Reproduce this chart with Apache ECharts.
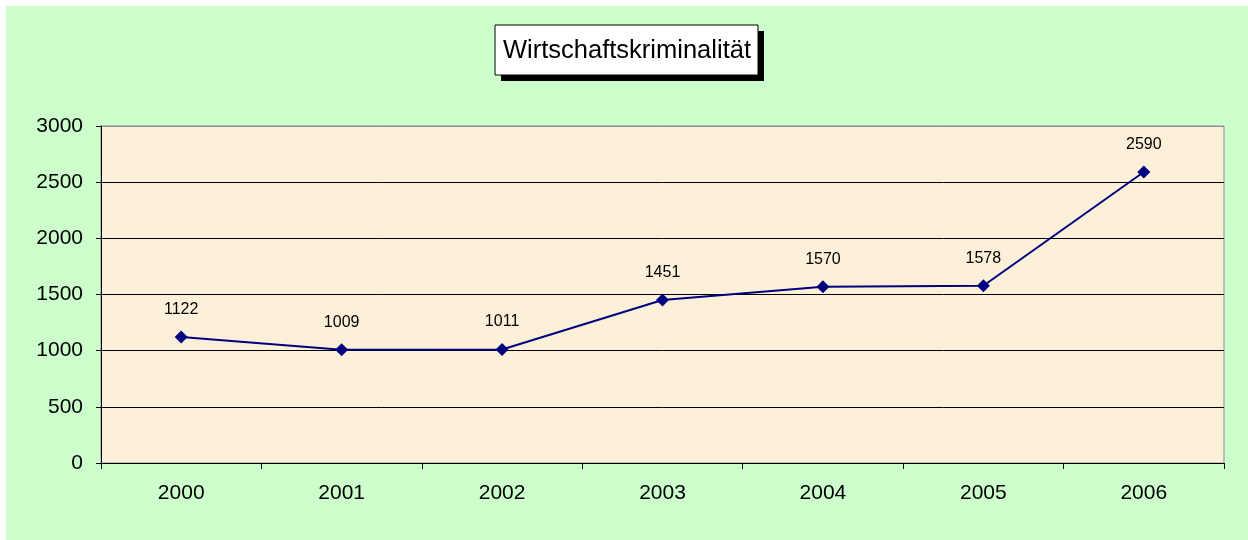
<!DOCTYPE html>
<html>
<head>
<meta charset="utf-8">
<script src="https://cdn.jsdelivr.net/npm/echarts@6/dist/echarts.min.js"></script>
<style>
  html, body { margin: 0; padding: 0; background: #ffffff; }
  #chart { position: absolute; left: 6px; top: 6px; width: 1242px; height: 534px; }
</style>
</head>
<body>
<div id="chart"></div>
<script>
// Wirtschaftskriminalität line chart
var years = ['2000', '2001', '2002', '2003', '2004', '2005', '2006'];
var cases = [1122, 1009, 1011, 1451, 1570, 1578, 2590];
var titleText = 'Wirtschaftskriminalität';

var chart = echarts.init(document.getElementById('chart'));
var font = '"Liberation Sans", Arial, sans-serif';

chart.setOption({
  backgroundColor: '#CCFFCC',
  animation: false,
  graphic: [{
    type: 'rect',
    shape: { x: 495, y: 25, width: 263, height: 50 },
    style: { fill: '#000000' }
  }, {
    type: 'rect',
    shape: { x: 489, y: 19, width: 263, height: 50 },
    style: { fill: '#ffffff', stroke: '#000000', lineWidth: 1 }
  }, {
    type: 'text',
    x: 621,
    y: 45,
    style: {
      text: titleText,
      fill: '#000000',
      font: '25.5px ' + font,
      align: 'center',
      verticalAlign: 'middle'
    }
  }],
  grid: {
    left: 95,
    top: 120,
    width: 1123,
    height: 337,
    show: true,
    backgroundColor: '#FCF0D9',
    borderColor: '#8c8c8c',
    borderWidth: 1
  },
  xAxis: {
    type: 'category',
    data: years,
    boundaryGap: true,
    axisLine: { lineStyle: { color: '#000000', width: 1 } },
    axisTick: { show: true, length: 6, lineStyle: { color: '#000000' } },
    axisLabel: { color: '#000000', fontSize: 21, fontFamily: font, margin: 20 },
    splitLine: { show: false }
  },
  yAxis: {
    type: 'value',
    min: 0,
    max: 3000,
    interval: 500,
    axisLine: { show: true, lineStyle: { color: '#000000', width: 1 } },
    axisTick: { show: true, length: 5, lineStyle: { color: '#000000' } },
    axisLabel: {
      color: '#000000',
      fontSize: 21,
      fontFamily: font,
      margin: 18,
      formatter: function (v) { return String(v); }
    },
    splitLine: {
      show: true,
      lineStyle: {
        color: ['#000000', '#000000', '#000000', '#000000', '#000000', '#000000', '#8c8c8c'],
        width: 1
      }
    }
  },
  series: [{
    type: 'line',
    data: cases,
    symbol: 'diamond',
    symbolSize: 13,
    lineStyle: { color: '#000080', width: 2 },
    itemStyle: { color: '#000080' },
    label: {
      show: true,
      position: 'top',
      distance: 13,
      color: '#000000',
      fontSize: 16,
      fontFamily: font
    }
  }]
});
</script>
</body>
</html>
